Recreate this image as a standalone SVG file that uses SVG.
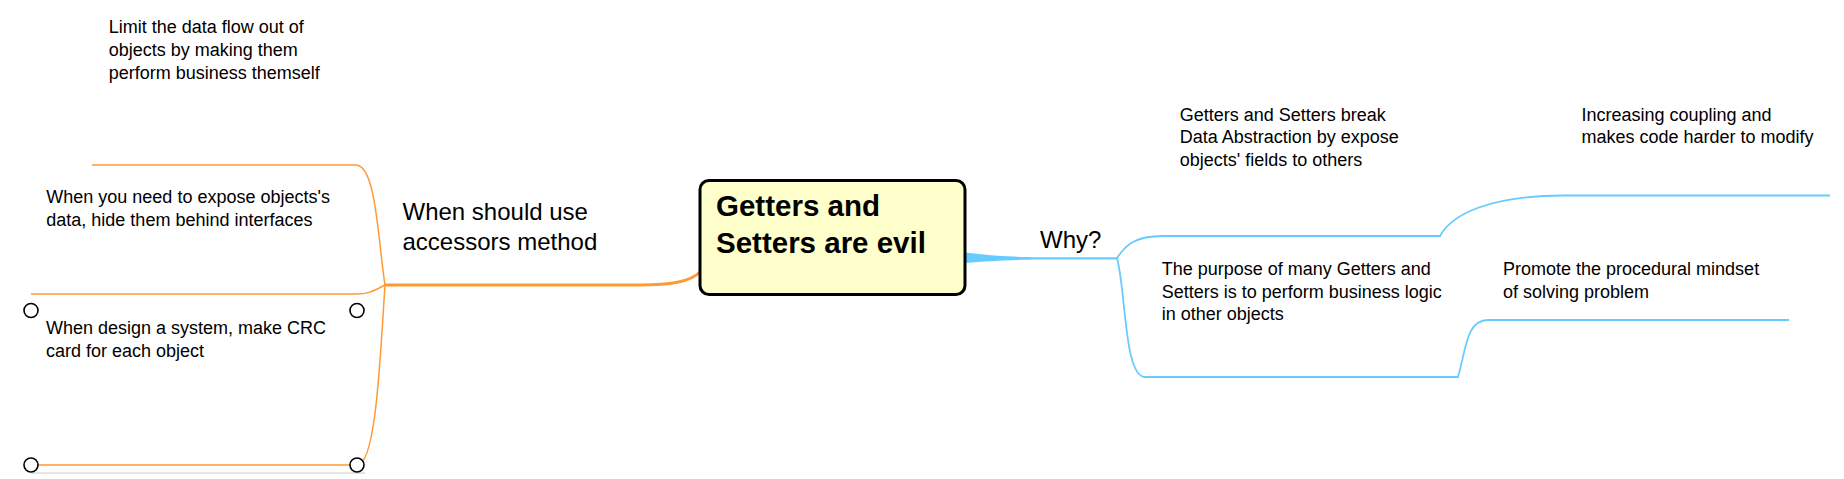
<svg xmlns="http://www.w3.org/2000/svg" width="1844" height="479" viewBox="0 0 1844 479">
<style>
text{font-family:"Liberation Sans",Arial,sans-serif;fill:#000}
.t{font-size:18px}
.m{font-size:24px}
.c{font-size:29.5px;font-weight:bold}
.o{fill:none;stroke:#FF9933;stroke-width:1.5}
.b{fill:none;stroke:#66CCFF;stroke-width:1.8}
.h{fill:#fff;stroke:#000;stroke-width:1.6}
</style>
<rect width="1844" height="479" fill="#fff"/>
<g id="connectors">
<path class="o" d="M385,285 L640,285 C670,285 690,282 700,272" style="stroke-width:3"/>
<path class="o" d="M385,285 C378,240 376,165 356,165 L92,165"/>
<path class="o" d="M385,285 C375,290 370,294 356,294 L31,294"/>
<path class="o" d="M385,285 C380,360 376,465 357,465 L31,465"/>
<path d="M965,252.5 C990,255.5 1010,257 1040,257.3 L1117,257.3 L1117,259.5 L1040,259.5 C1010,259.8 990,261 965,263 Z" fill="#66CCFF"/>
<path class="b" d="M1117,258.3 C1125,245 1135,236 1163,236 L1440,236 C1452,214 1490,195.5 1565,195.5 L1830,195.5"/>
<path class="b" d="M1117,258.3 C1126,290 1124,377 1145,377 L1458,377 C1466,350 1466,320 1488,320 L1789,320"/>
<line x1="31" y1="473" x2="365" y2="473" stroke="#dcdcdc" stroke-width="1.5"/>
</g>
<g id="central">
<rect x="700" y="180.5" width="265" height="114" rx="9" fill="#FFFFCC" stroke="#000" stroke-width="3"/>
<text class="c" x="716" y="215.5">Getters and</text>
<text class="c" x="716" y="253.3">Setters are evil</text>
</g>
<g id="accessors">
<text class="m" x="402.5" y="220">When should use</text>
<text class="m" x="402.5" y="250">accessors method</text>
</g>
<g id="why">
<text class="m" x="1040" y="247.7">Why?</text>
</g>
<g id="limit">
<text class="t" x="108.7" y="33.3">Limit the data flow out of</text>
<text class="t" x="108.7" y="56.3">objects by making them</text>
<text class="t" x="108.7" y="79">perform business themself</text>
</g>
<g id="expose">
<text class="t" x="46.3" y="203.3">When you need to expose objects's</text>
<text class="t" x="46.3" y="226.3">data, hide them behind interfaces</text>
</g>
<g id="crc">
<text class="t" x="46" y="334">When design a system, make CRC</text>
<text class="t" x="46" y="356.7">card for each object</text>
<circle class="h" cx="31" cy="310.5" r="7"/>
<circle class="h" cx="357" cy="310.5" r="7"/>
<circle class="h" cx="31" cy="465" r="7"/>
<circle class="h" cx="357" cy="465" r="7"/>
</g>
<g id="break">
<text class="t" x="1179.7" y="120.7">Getters and Setters break</text>
<text class="t" x="1179.7" y="143.3">Data Abstraction by expose</text>
<text class="t" x="1179.7" y="166">objects' fields to others</text>
</g>
<g id="coupling">
<text class="t" x="1581.5" y="120.7">Increasing coupling and</text>
<text class="t" x="1581.5" y="143.3">makes code harder to modify</text>
</g>
<g id="purpose">
<text class="t" x="1161.7" y="275">The purpose of many Getters and</text>
<text class="t" x="1161.7" y="297.5">Setters is to perform business logic</text>
<text class="t" x="1161.7" y="320">in other objects</text>
</g>
<g id="procedural">
<text class="t" x="1503" y="275">Promote the procedural mindset</text>
<text class="t" x="1503" y="297.5">of solving problem</text>
</g>
</svg>
